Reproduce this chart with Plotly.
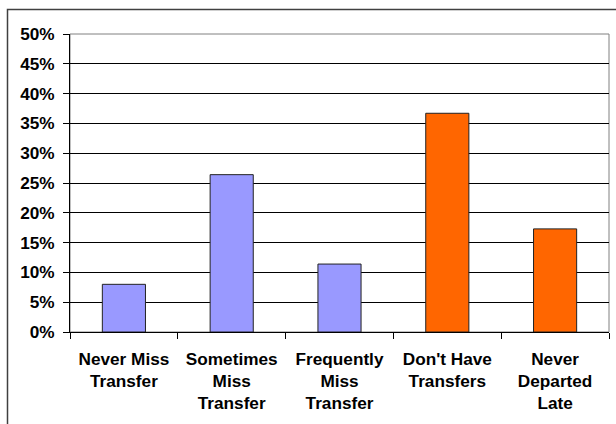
import plotly.graph_objects as go

# Survey responses about transfers and late departures
categories = [
    "Never Miss<br>Transfer",
    "Sometimes<br>Miss<br>Transfer",
    "Frequently<br>Miss<br>Transfer",
    "Don't Have<br>Transfers",
    "Never<br>Departed<br>Late",
]
shares = [0.080, 0.264, 0.114, 0.367, 0.173]
groups = ["transfer", "transfer", "transfer", "no_transfer", "no_transfer"]
y_ticks = [i * 0.05 for i in range(11)]

group_colors = {"transfer": "#9999FF", "no_transfer": "#FF6600"}
bar_colors = [group_colors[g] for g in groups]

W, H = 616, 424
L, R, T, B = 70, 7, 34, 92

label_font = dict(family="Liberation Sans, Arial, sans-serif", size=17.2,
                  color="#000000", weight="bold")

fig = go.Figure(
    go.Bar(
        x=categories,
        y=shares,
        marker=dict(color=bar_colors, line=dict(color="#222222", width=1)),
        width=0.4,
    )
)

fig.update_layout(
    width=W,
    height=H,
    margin=dict(l=L, r=R, t=T, b=B),
    paper_bgcolor="#FFFFFF",
    plot_bgcolor="#FFFFFF",
    showlegend=False,
    font=dict(family="Liberation Sans, Arial, sans-serif", size=17.2, color="#000000"),
    bargap=0.6,
)

fig.update_yaxes(
    range=[0, 0.5],
    tickvals=y_ticks,
    tickformat=".0%",
    showgrid=True,
    gridcolor="#000000",
    gridwidth=1,
    showline=True,
    linecolor="#000000",
    linewidth=1,
    ticks="outside",
    ticklen=6,
    tickcolor="#000000",
    ticklabelstandoff=5,
    tickfont=label_font,
    zeroline=False,
)

fig.update_xaxes(
    showline=True,
    linecolor="#000000",
    linewidth=1,
    ticks="outside",
    tickson="boundaries",
    ticklen=6,
    tickcolor="#000000",
    ticklabelstandoff=11,
    tickfont=label_font,
    tickangle=0,
)

pw = W - L - R
ph = H - T - B

# Plot-area frame (gray) and outer chart frame
fig.add_shape(
    type="rect", xref="paper", yref="paper",
    x0=0, x1=1, y0=0, y1=1,
    line=dict(color="#808080", width=1), layer="below",
)
fig.add_shape(
    type="rect", xref="paper", yref="paper",
    x0=(7.5 - L) / pw, x1=(W + 10 - L) / pw,
    y0=-(H + 10 - T - ph) / ph, y1=(T + ph - 9.5) / ph,
    line=dict(color="#404040", width=1.5), layer="above",
)

fig.write_html("out.html")
